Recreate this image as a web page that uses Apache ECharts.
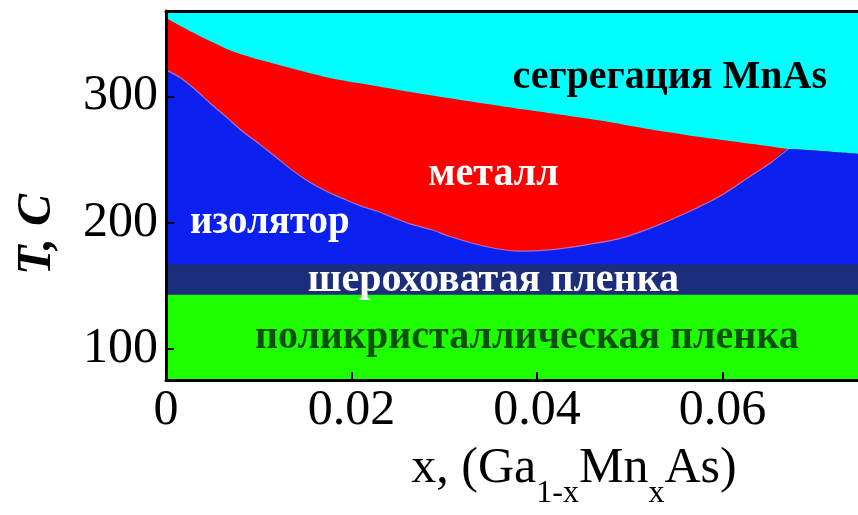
<!DOCTYPE html>
<html>
<head>
<meta charset="utf-8">
<script src="https://cdn.jsdelivr.net/npm/echarts@6/dist/echarts.min.js"></script>
<style>
  html, body { margin: 0; padding: 0; background: #ffffff; }
  #chart { width: 858px; height: 515px; }
</style>
</head>
<body>
<div id="chart"></div>
<script>
// Onset of MnAs segregation: upper edge of the metallic phase (x, T in C)
const segregationX = [0, 0.0029, 0.0066, 0.0101, 0.0137, 0.0174, 0.0209, 0.0252, 0.0325, 0.0396, 0.0468, 0.0522, 0.0562, 0.0633, 0.0671, 0.0706, 0.0746];
const segregationT = [362, 350.5, 337.4, 328.9, 321.9, 315.0, 310.3, 304.9, 296.4, 288.6, 280.9, 273.9, 269.3, 262.3, 258.4, 256.8, 254.6];

// Metal / insulator boundary (lower edge of the metallic phase)
const metalX = [0, 0.0015, 0.0029, 0.0047, 0.0066, 0.0083, 0.0101, 0.0120, 0.0137, 0.0155, 0.0174, 0.0191, 0.0209, 0.0228, 0.0245, 0.0263, 0.0288, 0.0306, 0.0342, 0.0378, 0.0414, 0.0450, 0.0490, 0.0525, 0.0562, 0.0598, 0.0633, 0.0652, 0.0671];
const metalT = [321, 315, 307, 295, 283, 272, 262, 251, 241, 232, 224.5, 219, 213.5, 209, 204, 199, 194, 189, 181.5, 177.5, 178.5, 182, 187.5, 196.5, 208.1, 221.3, 238.3, 247.5, 258.4];

// Growth-temperature limits of the film morphology bands
const roughFilmTop = 167;
const polyFilmTop = 143;

// Axis ticks
const xTicks = [0, 0.02, 0.04, 0.06];
const yTicks = [100, 200, 300];

const X_MIN = 0, X_MAX = 0.0746;
const T_MIN = 75.4, T_MAX = 367.6;

const zip = (xs, ys) => xs.map((x, i) => [x, ys[i]]);

const segregationEdge = zip(segregationX, segregationT);
const metalEdge = zip(metalX, metalT);
// Insulator region is bounded by the metal edge, then by the segregation edge past the triple point
const lastMetalX = metalX[metalX.length - 1];
const insulatorEdge = metalEdge.concat(segregationEdge.filter(p => p[0] > lastMetalX));

const SERIF = '"Liberation Serif", "Times New Roman", serif';

function region(name, data, color, smooth) {
  return {
    type: 'line',
    name: name,
    data: data,
    symbol: 'none',
    smooth: smooth,
    silent: true,
    lineStyle: { width: 0, opacity: 0 },
    areaStyle: { color: color, opacity: 1, origin: 'start' }
  };
}

function regionLabel(text, x, t, color, size) {
  return {
    value: [x, t],
    label: {
      show: true,
      position: 'inside',
      formatter: text,
      color: color,
      fontFamily: SERIF,
      fontWeight: 'bold',
      fontSize: size
    }
  };
}

const chart = echarts.init(document.getElementById('chart'), null, { renderer: 'canvas' });

chart.setOption({
  animation: false,
  backgroundColor: '#ffffff',
  grid: { left: 166, right: 0, top: 11, bottom: 126.5 },
  xAxis: [{
    type: 'value',
    min: X_MIN,
    max: X_MAX,
    interval: 0.02,
    splitLine: { show: false },
    axisLine: { show: true, lineStyle: { color: '#000', width: 3 } },
    axisTick: { show: true, inside: true, length: 8, lineStyle: { color: '#000', width: 2 }, customValues: xTicks },
    axisLabel: {
      customValues: xTicks,
      margin: 6,
      color: '#000',
      fontFamily: SERIF,
      fontSize: 50,
      formatter: v => String(v)
    },
    name: '{m|x, (Ga}{s|1-x}{m|Mn}{s|x}{m|As)}',
    nameLocation: 'middle',
    nameGap: 64,
    nameTextStyle: {
      padding: [0, 0, 0, 124],
      rich: {
        m: { fontFamily: SERIF, fontSize: 50, color: '#000', verticalAlign: 'bottom', padding: [0, 0, 16, 0] },
        s: { fontFamily: SERIF, fontSize: 32, color: '#000', verticalAlign: 'bottom' }
      }
    },
    z: 10
  }, {
    type: 'value',
    position: 'top',
    min: X_MIN,
    max: X_MAX,
    splitLine: { show: false },
    axisLine: { show: true, lineStyle: { color: '#000', width: 3 } },
    axisTick: { show: false },
    axisLabel: { show: false },
    z: 10
  }],
  yAxis: {
    type: 'value',
    min: T_MIN,
    max: T_MAX,
    splitLine: { show: false },
    axisLine: { show: true, lineStyle: { color: '#000', width: 3 } },
    axisTick: { show: true, inside: true, length: 8, lineStyle: { color: '#000', width: 2 }, customValues: yTicks },
    axisLabel: {
      customValues: yTicks,
      margin: 8,
      color: '#000',
      fontFamily: SERIF,
      fontSize: 50
    },
    name: 'T, C',
    nameLocation: 'middle',
    nameGap: 104,
    nameTextStyle: {
      fontFamily: SERIF,
      fontStyle: 'italic',
      fontWeight: 'bold',
      fontSize: 48,
      color: '#000',
      padding: [0, 78, 0, 0]
    },
    z: 10
  },
  series: [
    region('сегрегация MnAs', [[X_MIN, T_MAX], [X_MAX, T_MAX]], '#00ffff', false),
    region('металл', segregationEdge, '#ff0000', 0.25),
    region('изолятор', insulatorEdge, '#0a20ee', 0.25),
    {
      // thin light edge along the metal / insulator boundary
      type: 'line',
      data: metalEdge,
      symbol: 'none',
      smooth: 0.25,
      silent: true,
      lineStyle: { width: 1.2, color: 'rgba(190, 140, 220, 0.75)' }
    },
    region('шероховатая пленка', [[X_MIN, roughFilmTop], [X_MAX, roughFilmTop]], '#1c2d7c', false),
    region('поликристаллическая пленка', [[X_MIN, polyFilmTop], [X_MAX, polyFilmTop]], '#1eff00', false),
    {
      type: 'scatter',
      silent: true,
      symbolSize: 1,
      itemStyle: { color: 'rgba(0,0,0,0)', opacity: 1 },
      z: 5,
      data: [
        regionLabel('сегрегация MnAs', 0.0543, 314.5, '#000000', 40),
        regionLabel('металл', 0.0353, 238, '#ffffff', 40),
        regionLabel('изолятор', 0.0112, 199.8, '#ffffff', 39),
        regionLabel('шероховатая пленка', 0.0353, 154, '#ffffff', 40),
        regionLabel('поликристаллическая пленка', 0.0389, 109, '#0b500b', 40)
      ]
    }
  ]
});
</script>
</body>
</html>
